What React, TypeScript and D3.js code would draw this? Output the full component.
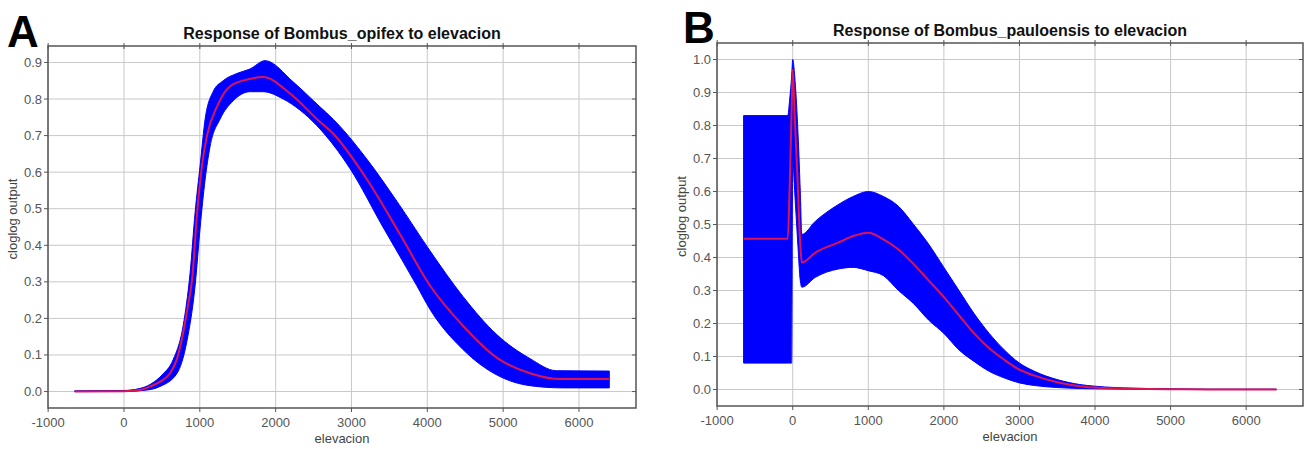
import React from "react";
import * as d3 from "d3";

// shared x axis
const xDomain: [number, number] = [-1002, 6752];
const xTickValues = [-1000, 0, 1000, 2000, 3000, 4000, 5000, 6000];
const yTicksA = [0, 0.1, 0.2, 0.3, 0.4, 0.5, 0.6, 0.7, 0.8, 0.9];
const yTicksB = [0, 0.1, 0.2, 0.3, 0.4, 0.5, 0.6, 0.7, 0.8, 0.9, 1.0];

// Panel A - Bombus_opifex, [elevacion, cloglog]
const meanA: [number, number][] = [
    [-650, 0], [0, 0.001], [200, 0.004], [345, 0.014], [500, 0.03], [608, 0.05], [700, 0.09],
    [780, 0.16], [840, 0.23], [900, 0.31], [965, 0.49], [1030, 0.62], [1095, 0.7], [1228, 0.78],
    [1400, 0.835], [1660, 0.855], [1835, 0.86], [2190, 0.815], [2545, 0.745], [2760, 0.705],
    [3205, 0.58], [3640, 0.43], [4035, 0.29], [4470, 0.18], [4920, 0.092], [5355, 0.05],
    [5750, 0.034], [6400, 0.034],
];
const upperA: [number, number][] = [
    [-650, 0.002], [0, 0.003], [200, 0.008], [350, 0.02], [500, 0.045], [650, 0.088], [780, 0.18],
    [872, 0.325], [938, 0.49], [1005, 0.62], [1070, 0.745], [1175, 0.82], [1307, 0.85],
    [1490, 0.87], [1660, 0.882], [1860, 0.905], [2230, 0.847], [2500, 0.795], [2850, 0.725],
    [3205, 0.635], [3600, 0.52], [4035, 0.385], [4470, 0.26], [4920, 0.155], [5355, 0.09],
    [5700, 0.057], [6400, 0.056],
];
const lowerA: [number, number][] = [
    [-650, 0], [0, 0], [300, 0.004], [476, 0.014], [700, 0.05], [832, 0.14], [938, 0.29],
    [1005, 0.45], [1070, 0.58], [1135, 0.67], [1267, 0.745], [1440, 0.795], [1660, 0.82],
    [1835, 0.82], [2100, 0.8], [2545, 0.727], [2980, 0.61], [3415, 0.45], [3860, 0.29],
    [4035, 0.225], [4470, 0.115], [4920, 0.045], [5355, 0.016], [5790, 0.01], [6400, 0.01],
];

// Panel B - Bombus_pauloensis
const elevB = [-650, -66, -40, -14, 0, 26, 65, 100, 120, 300, 600, 800, 1000, 1200, 1400, 1600,
    1800, 2000, 2200, 2400, 2600, 2800, 3000, 3200, 3500, 3800, 4000, 4500, 5000, 5500, 6000, 6400];
const meanB = [0.457, 0.457, 0.62, 0.85, 0.97, 0.83, 0.63, 0.44, 0.385, 0.415, 0.445, 0.465, 0.475,
    0.455, 0.424, 0.38, 0.33, 0.28, 0.225, 0.17, 0.125, 0.09, 0.06, 0.042, 0.022, 0.01, 0.006,
    0.002, 0.001, 0, 0, 0];
const upperB = [0.83, 0.83, 0.88, 0.95, 1.0, 0.95, 0.8, 0.6, 0.47, 0.51, 0.56, 0.585, 0.6, 0.585,
    0.555, 0.5, 0.44, 0.37, 0.3, 0.23, 0.17, 0.12, 0.08, 0.055, 0.03, 0.015, 0.01, 0.004, 0.002,
    0.001, 0.001, 0.001];
const lowerB = [0.08, 0.08, 0.08, 0.08, 0.7, 0.6, 0.45, 0.33, 0.31, 0.34, 0.365, 0.37, 0.36, 0.345,
    0.3, 0.26, 0.21, 0.17, 0.12, 0.085, 0.055, 0.035, 0.02, 0.012, 0.006, 0.003, 0.002, 0.001, 0,
    0, 0, 0];

const font = "'Liberation Sans', Arial, sans-serif";

type Pt = [number, number];

const Panel = ({ box, yDomain, yTicks, upper, lower, mean, title, letter, letterX, letterY }: any) => {
    const x = d3.scaleLinear().domain(xDomain).range([box.left, box.right]);
    const y = d3.scaleLinear().domain(yDomain).range([box.bottom, box.top]);
    const line = d3.line<Pt>().x(d => x(d[0])).y(d => y(d[1])).curve(d3.curveMonotoneX);
    // band: upper edge forward, lower edge backward
    const top = line(upper) ?? "";
    const bottom = (line(lower.slice().reverse()) ?? "").replace(/^M/, "L");
    const band = top + bottom + "Z";
    const cx = (box.left + box.right) / 2;
    const cy = (box.top + box.bottom) / 2;

    return (
        <g>
            {/* panel letter */}
            <text x={letterX} y={letterY} style={{ fontFamily: font, fontSize: "44px", fontWeight: "bold" }} fill="#000">
                {letter}
            </text>
            {/* title */}
            <text x={cx} y={box.top - 7} textAnchor="middle" style={{ fontFamily: font, fontSize: "16px", fontWeight: "bold" }} fill="#111">
                {title}
            </text>

            {/* grid */}
            {xTickValues.map(t => (
                <line key={"gx" + t} x1={x(t)} x2={x(t)} y1={box.top} y2={box.bottom} stroke="#c8c8c8" strokeWidth={1} />
            ))}
            {yTicks.map((t: number) => (
                <line key={"gy" + t} x1={box.left} x2={box.right} y1={y(t)} y2={y(t)} stroke="#c8c8c8" strokeWidth={1} />
            ))}

            {/* band and mean */}
            <path d={band} fill="#0000ff" stroke="#0000ff" strokeWidth={1} />
            <path d={line(mean) ?? ""} fill="none" stroke="#dc1450" strokeWidth={2} />

            {/* frame */}
            <rect x={box.left} y={box.top} width={box.right - box.left} height={box.bottom - box.top}
                fill="none" stroke="#555" strokeWidth={1.5} />

            {/* x ticks */}
            {xTickValues.map(t => (
                <g key={"xt" + t}>
                    <line x1={x(t)} x2={x(t)} y1={box.bottom} y2={box.bottom + 4} stroke="#555" />
                    <line x1={x(t)} x2={x(t)} y1={box.top - 3} y2={box.top + 3} stroke="#555" />
                    <text x={x(t)} y={box.bottom + 19} textAnchor="middle" style={{ fontFamily: font, fontSize: "13px" }} fill="#555">
                        {t}
                    </text>
                </g>
            ))}
            {/* y ticks */}
            {yTicks.map((t: number) => (
                <g key={"yt" + t}>
                    <line x1={box.left - 4} x2={box.left} y1={y(t)} y2={y(t)} stroke="#555" />
                    <line x1={box.right - 4} x2={box.right} y1={y(t)} y2={y(t)} stroke="#555" />
                    <text x={box.left - 6} y={y(t) + 4.5} textAnchor="end" style={{ fontFamily: font, fontSize: "13px" }} fill="#555">
                        {d3.format(".1f")(t)}
                    </text>
                </g>
            ))}

            {/* axis labels */}
            <text x={cx} y={box.bottom + 35} textAnchor="middle" style={{ fontFamily: font, fontSize: "13px" }} fill="#444">
                elevacion
            </text>
            <text transform={`translate(${box.left - 31},${cy - 8}) rotate(-90)`} textAnchor="middle"
                style={{ fontFamily: font, fontSize: "13px" }} fill="#444">
                cloglog output
            </text>
        </g>
    );
};

export default function App() {
    const pairsB = (vals: number[]): Pt[] => elevB.map((e, i) => [e, vals[i]]);

    return (
        <svg width={1306} height={449} viewBox="0 0 1306 449"
            style={{ position: "absolute", left: 0, top: 0, background: "#fff" }}>
            <rect width={1306} height={449} fill="#fff" />
            <Panel
                box={{ left: 48, right: 636, top: 46, bottom: 408 }}
                yDomain={[-0.045, 0.945]}
                yTicks={yTicksA}
                upper={upperA}
                lower={lowerA}
                mean={meanA}
                title="Response of Bombus_opifex to elevacion"
                letter="A"
                letterX={7}
                letterY={47}
            />
            <Panel
                box={{ left: 717, right: 1303, top: 43, bottom: 406 }}
                yDomain={[-0.05, 1.05]}
                yTicks={yTicksB}
                upper={pairsB(upperB)}
                lower={pairsB(lowerB)}
                mean={pairsB(meanB)}
                title="Response of Bombus_pauloensis to elevacion"
                letter="B"
                letterX={683}
                letterY={43}
            />
        </svg>
    );
}
